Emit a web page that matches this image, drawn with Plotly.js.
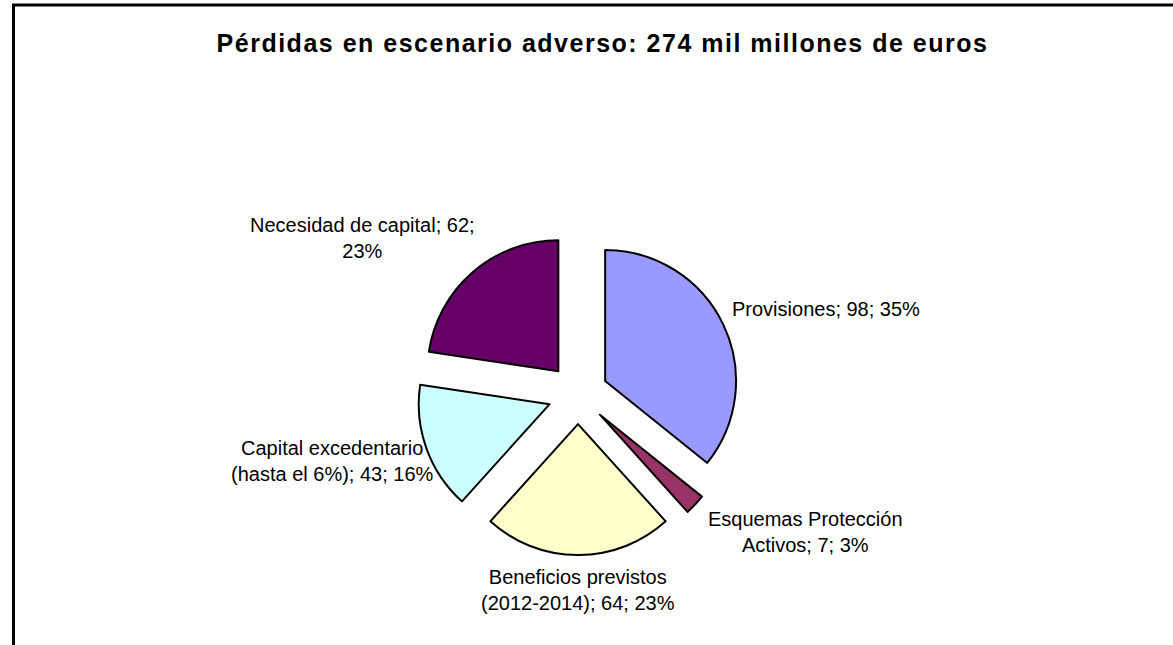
<!DOCTYPE html>
<html>
<head>
<meta charset="utf-8">
<script src="https://cdn.plot.ly/plotly-3.0.1.min.js"></script>
<style>
  html, body { margin: 0; padding: 0; background: #ffffff; }
  #chart { width: 1173px; height: 645px; }
  .gtitle { letter-spacing: 1.5px; }
</style>
</head>
<body>
<div id="chart"></div>
<script>
// ---- data ----
const categories = ["Provisiones", "Esquemas Protección Activos", "Beneficios previstos (2012-2014)", "Capital excedentario (hasta el 6%)", "Necesidad de capital"];
const values = [98, 7, 64, 43, 62];
const percents = [35, 3, 23, 16, 23];
const colors = ["#9999FF", "#993366", "#FFFFCC", "#CCFFFF", "#660066"];
// data label texts, as printed on the chart
const labelTexts = [
  "Provisiones; 98; 35%",
  "Esquemas Protección<br>Activos; 7; 3%",
  "Beneficios previstos<br>(2012-2014); 64; 23%",
  "Capital excedentario<br>(hasta el 6%); 43; 16%",
  "Necesidad de capital; 62;<br>23%"
];
const titleText = "Pérdidas en escenario adverso: 274 mil millones de euros";

// label anchor positions (pixels in the 1173x645 figure)
const labelPos = [[826, 309], [805, 532], [578, 590], [332, 461], [362, 238]];

const W = 1173, H = 645;

const trace = {
  type: "pie",
  labels: categories,
  values: values,
  sort: false,
  direction: "clockwise",
  rotation: 0,
  pull: values.map(() => 0.23),
  marker: { colors: colors, line: { color: "#000000", width: 2 } },
  textinfo: "none",
  hoverinfo: "label+value+percent",
  showlegend: false,
  domain: { x: [0.25, 0.7355], y: [0.1395, 0.6388] }
};

const annotations = labelTexts.map((t, i) => ({
  text: t,
  xref: "paper", yref: "paper",
  x: labelPos[i][0] / W,
  y: 1 - labelPos[i][1] / H,
  xanchor: "center", yanchor: "middle",
  showarrow: false,
  align: "center",
  font: { family: "Liberation Sans, Arial, sans-serif", size: 20, color: "#000000" }
}));

const layout = {
  width: W, height: H,
  margin: { l: 0, r: 0, t: 0, b: 0 },
  paper_bgcolor: "#ffffff",
  plot_bgcolor: "#ffffff",
  title: {
    text: "<b>" + titleText + "</b>",
    x: 602.5 / W, xref: "container", xanchor: "center",
    y: 1 - 43 / H, yref: "container", yanchor: "middle",
    font: { family: "Liberation Sans, Arial, sans-serif", size: 25, color: "#000000" }
  },
  annotations: annotations,
  shapes: [
    { type: "line", xref: "paper", yref: "paper", x0: 13.5 / W, x1: 13.5 / W, y0: -0.1, y1: 1 - 4 / H, line: { color: "#000000", width: 3 } },
    { type: "line", xref: "paper", yref: "paper", x0: 12 / W, x1: 1.05, y0: 1 - 5 / H, y1: 1 - 5 / H, line: { color: "#000000", width: 3 } }
  ]
};

Plotly.newPlot("chart", [trace], layout, { displayModeBar: false, responsive: false });
</script>
</body>
</html>
